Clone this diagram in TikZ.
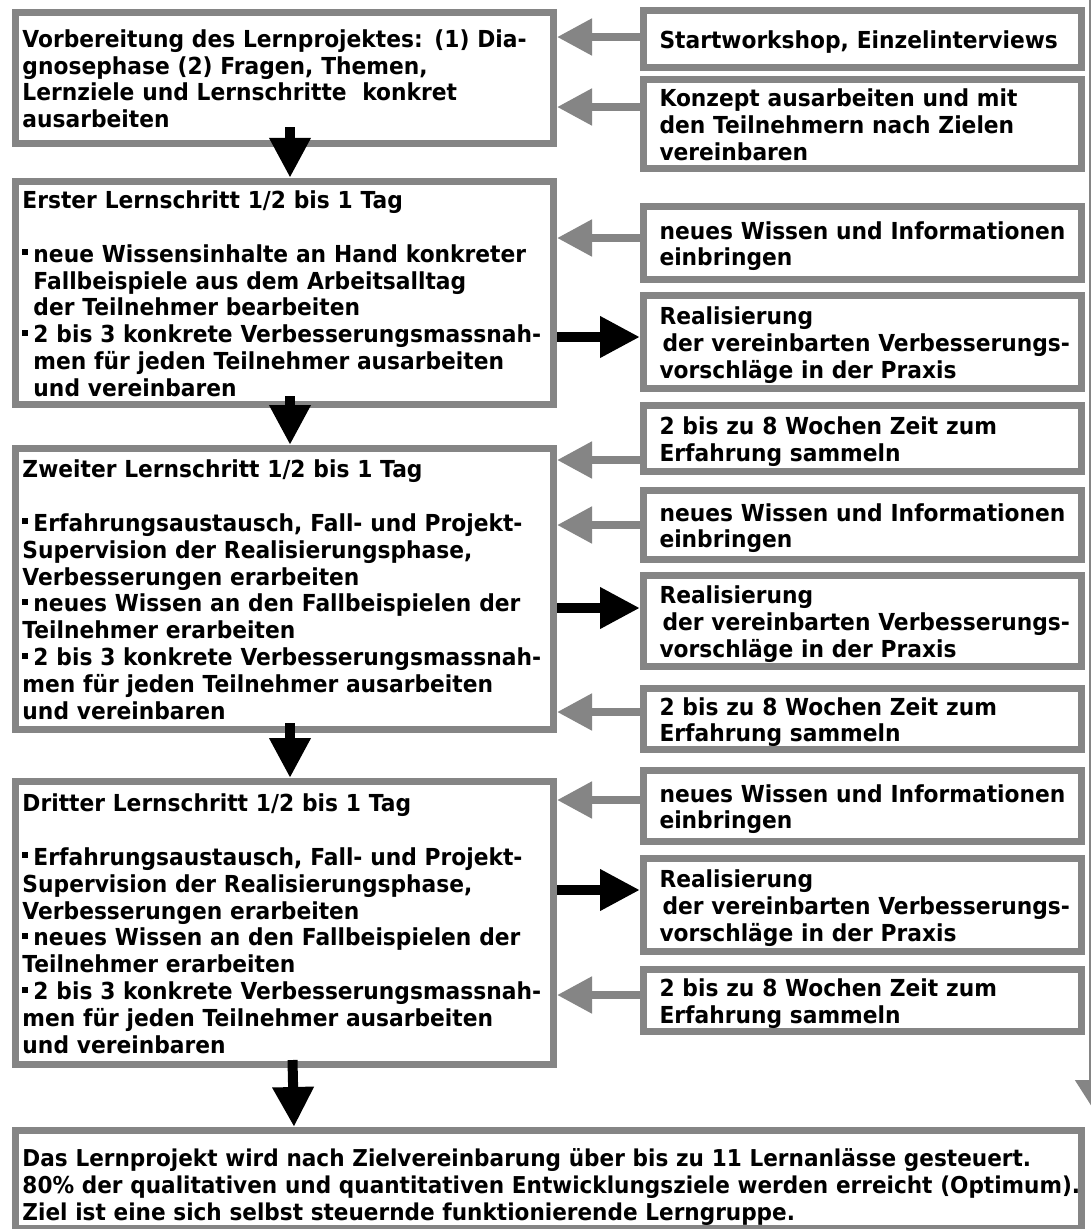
\documentclass[tikz,border=0pt]{standalone}
\usepackage{fontspec}
\setmainfont{DejaVu Sans}[FakeStretch=0.93]
\usetikzlibrary{arrows.meta}

\definecolor{dith}{gray}{0.52}
\newcommand\chartfont{\bfseries\fontsize{23.5}{27}\selectfont}
\newcommand\rows[2][27bp]{\begin{tabular}{@{}l@{}}\rule{0pt}{#1}#2\end{tabular}}
\newcommand\bul{\raisebox{7bp}{\rule{6bp}{6bp}}\hspace{5bp}}
\newcommand\ind{\hspace*{11bp}}

\begin{document}
\begin{tikzpicture}[x=1bp,y=-1bp,
  every node/.style={font=\chartfont},
  box/.style={rectangle, draw=dith, line width=7bp, fill=white, inner ysep=0bp, align=left},
  lbox/.style={box, inner xsep=7bp, minimum width=538bp, text width=524bp},
  rbox/.style={box, inner xsep=16bp, minimum width=438bp, text width=406bp},
  fbox/.style={box, inner xsep=7bp, minimum width=1066bp, text width=1052bp,
    font=\bfseries\fontsize{23.3}{27}\selectfont},
  feed/.style={draw=dith, line width=8bp, -{Triangle[length=35bp,width=35bp]}},
  flow/.style={draw=black, line width=10bp, -{Triangle[length=40bp,width=39bp]}},
]
\useasboundingbox[fill=white] (0,0) rectangle (1091,1229);

% learning steps (left column)
\node[lbox, minimum height=131bp] (L1) at (284.5,78) {\rows{%
Vorbereitung des Lernprojektes: (1) Dia-\\
gnosephase (2) Fragen, Themen,\\
Lernziele und Lernschritte \ konkret\\
ausarbeiten}};

\node[lbox, minimum height=223bp] (L2) at (284.5,293) {\rows{%
Erster Lernschritt 1/2 bis 1 Tag\\
\\
\bul neue Wissensinhalte an Hand konkreter\\
\ind Fallbeispiele aus dem Arbeitsalltag\\
\ind der Teilnehmer bearbeiten\\
\bul 2 bis 3 konkrete Verbesserungsmassnah-\\
\ind men für jeden Teilnehmer ausarbeiten\\
\ind und vereinbaren}};

\node[lbox, minimum height=281bp] (L3) at (284.5,589) {\rows{%
Zweiter Lernschritt 1/2 bis 1 Tag\\
\\
\bul Erfahrungsaustausch, Fall- und Projekt-\\
Supervision der Realisierungsphase,\\
Verbesserungen erarbeiten\\
\bul neues Wissen an den Fallbeispielen der\\
Teilnehmer erarbeiten\\
\bul 2 bis 3 konkrete Verbesserungsmassnah-\\
men für jeden Teilnehmer ausarbeiten\\
und vereinbaren}};

\node[lbox, minimum height=283bp] (L4) at (284.5,923) {\rows{%
Dritter Lernschritt 1/2 bis 1 Tag\\
\\
\bul Erfahrungsaustausch, Fall- und Projekt-\\
Supervision der Realisierungsphase,\\
Verbesserungen erarbeiten\\
\bul neues Wissen an den Fallbeispielen der\\
Teilnehmer erarbeiten\\
\bul 2 bis 3 konkrete Verbesserungsmassnah-\\
men für jeden Teilnehmer ausarbeiten\\
und vereinbaren}};

\node[fbox, minimum height=98bp] (F) at (548.5,1179.5) {\rows[36bp]{%
Das Lernprojekt wird nach Zielvereinbarung über bis zu 11 Lernanlässe gesteuert.\\
80\% der qualitativen und quantitativen Entwicklungsziele werden erreicht (Optimum).\\
Ziel ist eine sich selbst steuernde funktionierende Lerngruppe.}};

% inputs and activities (right column)
\node[rbox, minimum height=57bp] (R1) at (862.5,39) {\rows{Startworkshop, Einzelinterviews}};
\node[rbox, minimum height=89bp] (R2) at (862.5,124) {\rows{Konzept ausarbeiten und mit\\den Teilnehmern nach Zielen\\vereinbaren}};
\node[rbox, minimum height=73bp] (R3) at (862.5,243) {\rows{neues Wissen und Informationen\\einbringen}};
\node[rbox, minimum height=93bp] (R4) at (862.5,342) {\rows{Realisierung\\\hspace*{3bp}der vereinbarten Verbesserungs-\\vorschläge in der Praxis}};
\node[rbox, minimum height=66bp] (R5) at (862.5,438.5) {\rows{2 bis zu 8 Wochen Zeit zum\\Erfahrung sammeln}};
\node[rbox, minimum height=69bp] (R6) at (862.5,525) {\rows{neues Wissen und Informationen\\einbringen}};
\node[rbox, minimum height=91bp] (R7) at (862.5,621) {\rows{Realisierung\\\hspace*{3bp}der vereinbarten Verbesserungs-\\vorschläge in der Praxis}};
\node[rbox, minimum height=61bp] (R8) at (862.5,719) {\rows{2 bis zu 8 Wochen Zeit zum\\Erfahrung sammeln}};
\node[rbox, minimum height=71bp] (R9) at (862.5,806) {\rows{neues Wissen und Informationen\\einbringen}};
\node[rbox, minimum height=93bp] (R10) at (862.5,905) {\rows{Realisierung\\\hspace*{3bp}der vereinbarten Verbesserungs-\\vorschläge in der Praxis}};
\node[rbox, minimum height=58bp] (R11) at (862.5,1000.5) {\rows{2 bis zu 8 Wochen Zeit zum\\Erfahrung sammeln}};

% main sequence
\draw[flow] ([xshift=5.5bp,yshift=20bp]L1.south) -- ([xshift=5.5bp]L2.north);
\draw[flow] ([xshift=5.5bp,yshift=12bp]L2.south) -- ([xshift=5.5bp]L3.north);
\draw[flow] ([xshift=5.5bp,yshift=10bp]L3.south) -- ([xshift=5.5bp]L4.north);
\draw[flow] ([xshift=8bp,yshift=8bp]L4.south) -- ([xshift=-254.5bp]F.north);

% feeds into the learning steps
\draw[feed] (R1.west |- 0,37) -- (L1.east |- 0,37);
\draw[feed] (R2.west |- 0,107) -- (L1.east |- 0,107);
\draw[feed] (R3.west |- 0,238) -- (L2.east |- 0,238);
\draw[feed] (R5.west |- 0,460) -- (L3.east |- 0,460);
\draw[feed] (R6.west |- 0,525) -- (L3.east |- 0,525);
\draw[feed] (R8.west |- 0,712) -- (L3.east |- 0,712);
\draw[feed] (R9.west |- 0,800) -- (L4.east |- 0,800);
\draw[feed] (R11.west |- 0,995) -- (L4.east |- 0,995);

% transfer into practice
\draw[flow] (L2.east |- 0,337) -- (R4.west |- 0,337);
\draw[flow] (L3.east |- 0,608) -- (R7.west |- 0,608);
\draw[flow] (L4.east |- 0,890) -- (R10.west |- 0,890);

% return path along the right edge
\coordinate (backtop) at (1095,-5);
\coordinate (backend) at (1095,1112);
\draw[feed, line width=12bp, -{Triangle[length=32bp,width=38bp]}] (backtop) -- (backend);
\end{tikzpicture}
\end{document}
